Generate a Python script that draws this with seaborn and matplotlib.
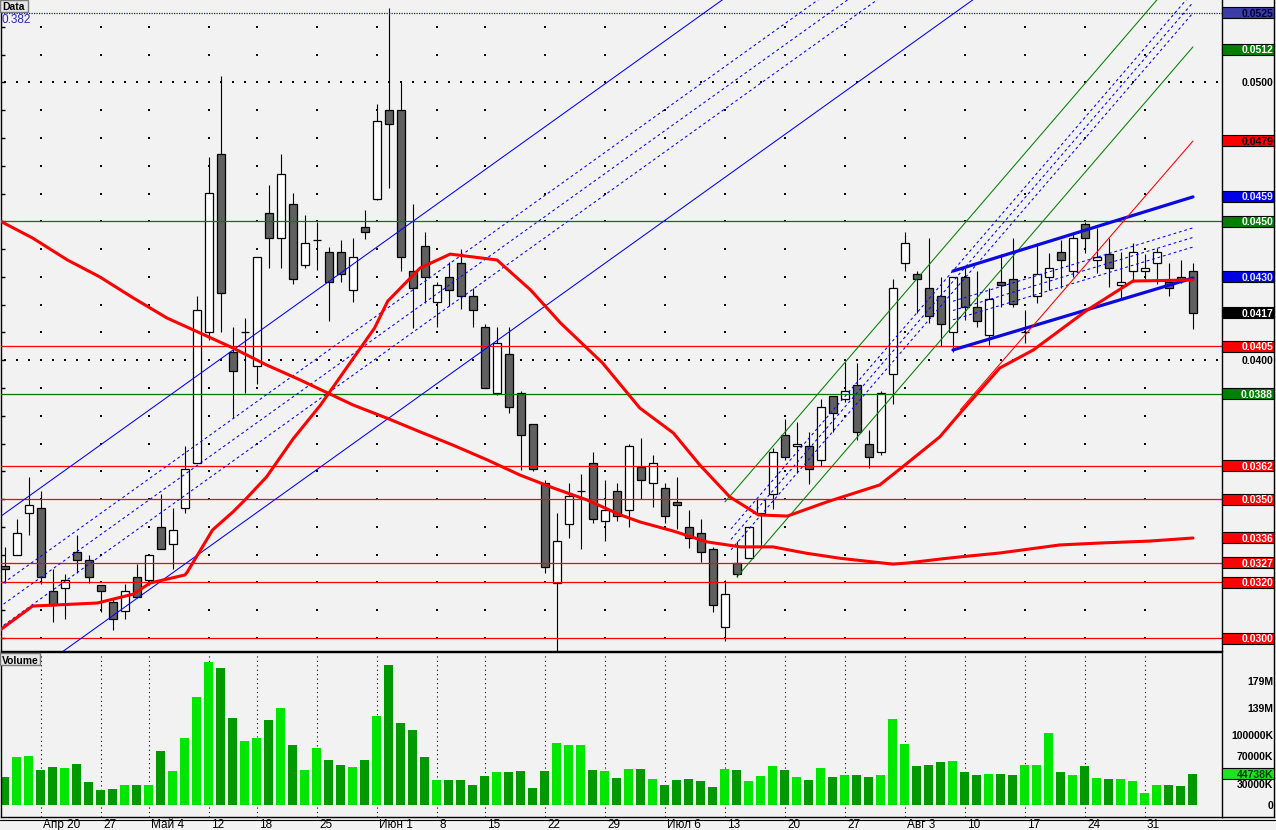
"""
Daily candlestick chart, Apr - Sep 2009, with volume panel,
moving averages, trend channels and marked price levels.
"""

import numpy as np
import pandas as pd
import matplotlib
matplotlib.use("Agg")
import matplotlib.pyplot as plt
from matplotlib.patches import Rectangle
from matplotlib.lines import Line2D
import seaborn as sns


# ---------------------------------------------------------------------------
# Data
# ---------------------------------------------------------------------------

opens = [0.03259, 0.03299, 0.03450, 0.03468, 0.03169, 0.03180, 0.03310, 0.03281, 0.03191, 0.03130,
         0.03097, 0.03220, 0.03209, 0.03400, 0.03338, 0.03468, 0.03630, 0.04102, 0.04742, 0.04030,
         0.04102, 0.03979, 0.04530, 0.04440, 0.04562, 0.04343, 0.04433, 0.04390, 0.04390, 0.04253,
         0.04480, 0.04580, 0.04901, 0.04901, 0.04321, 0.04411, 0.04210, 0.04300, 0.04350, 0.04231,
         0.04120, 0.03882, 0.04022, 0.03882, 0.03770, 0.03558, 0.03198, 0.03410, 0.03529, 0.03630,
         0.03421, 0.03529, 0.03461, 0.03616, 0.03558, 0.03540, 0.03490, 0.03400, 0.03378, 0.03320,
         0.03040, 0.03270, 0.03288, 0.03450, 0.03518, 0.03731, 0.03691, 0.03691, 0.03641, 0.03871,
         0.03860, 0.03911, 0.03698, 0.03670, 0.03950, 0.04350, 0.04310, 0.04260, 0.04231, 0.04102,
         0.04300, 0.04192, 0.04091, 0.04282, 0.04292, 0.04102, 0.04231, 0.04300, 0.04390, 0.04321,
         0.04490, 0.04361, 0.04382, 0.04271, 0.04321, 0.04321, 0.04350, 0.04282, 0.04300, 0.04321]

highs = [0.03328, 0.03428, 0.03580, 0.03529, 0.03248, 0.03230, 0.03371, 0.03299, 0.03191, 0.03144,
         0.03194, 0.03266, 0.03299, 0.03518, 0.03468, 0.03691, 0.04231, 0.04732, 0.05023, 0.04120,
         0.04152, 0.04372, 0.04631, 0.04742, 0.04602, 0.04523, 0.04498, 0.04408, 0.04433, 0.04440,
         0.04541, 0.04922, 0.05268, 0.05002, 0.04562, 0.04462, 0.04282, 0.04354, 0.04400, 0.04260,
         0.04130, 0.04120, 0.04120, 0.03889, 0.03770, 0.03569, 0.03450, 0.03558, 0.03590, 0.03670,
         0.03569, 0.03558, 0.03698, 0.03720, 0.03659, 0.03558, 0.03580, 0.03461, 0.03428, 0.03328,
         0.03209, 0.03349, 0.03400, 0.03500, 0.03684, 0.03788, 0.03778, 0.03742, 0.03860, 0.03871,
         0.03994, 0.03990, 0.03749, 0.03889, 0.04292, 0.04462, 0.04321, 0.04440, 0.04300, 0.04300,
         0.04332, 0.04321, 0.04260, 0.04382, 0.04440, 0.04181, 0.04422, 0.04386, 0.04433, 0.04458,
         0.04498, 0.04476, 0.04440, 0.04390, 0.04422, 0.04382, 0.04404, 0.04350, 0.04361, 0.04350]

lows = [0.03198, 0.03299, 0.03371, 0.03194, 0.03058, 0.03068, 0.03234, 0.03198, 0.03094, 0.03029,
        0.03068, 0.03148, 0.03191, 0.03320, 0.03248, 0.03450, 0.03630, 0.04073, 0.04102, 0.03792,
        0.03882, 0.03914, 0.04332, 0.04332, 0.04274, 0.04332, 0.04325, 0.04141, 0.04282, 0.04210,
        0.04436, 0.04577, 0.04620, 0.04321, 0.04116, 0.04206, 0.04120, 0.04195, 0.04184, 0.04120,
        0.03899, 0.03875, 0.03810, 0.03605, 0.03601, 0.03234, 0.02950, 0.03360, 0.03320, 0.03414,
        0.03349, 0.03421, 0.03400, 0.03500, 0.03472, 0.03414, 0.03392, 0.03324, 0.03274, 0.03094,
        0.02989, 0.03220, 0.03288, 0.03324, 0.03464, 0.03641, 0.03594, 0.03554, 0.03619, 0.03742,
        0.03850, 0.03713, 0.03612, 0.03659, 0.03842, 0.04321, 0.04170, 0.04134, 0.04051, 0.04030,
        0.04145, 0.04120, 0.04055, 0.04192, 0.04192, 0.04062, 0.04206, 0.04253, 0.04260, 0.04300,
        0.04386, 0.04314, 0.04264, 0.04224, 0.04282, 0.04292, 0.04274, 0.04231, 0.04278, 0.04112]

closes = [0.03248, 0.03378, 0.03479, 0.03220, 0.03119, 0.03209, 0.03281, 0.03220, 0.03169, 0.03068,
          0.03169, 0.03148, 0.03299, 0.03320, 0.03389, 0.03608, 0.04181, 0.04602, 0.04242, 0.03961,
          0.04102, 0.04372, 0.04440, 0.04670, 0.04292, 0.04422, 0.04433, 0.04282, 0.04310, 0.04372,
          0.04462, 0.04861, 0.04850, 0.04372, 0.04260, 0.04300, 0.04271, 0.04253, 0.04231, 0.04181,
          0.03899, 0.04062, 0.03832, 0.03731, 0.03608, 0.03256, 0.03349, 0.03511, 0.03529, 0.03428,
          0.03461, 0.03439, 0.03691, 0.03569, 0.03630, 0.03439, 0.03479, 0.03360, 0.03310, 0.03119,
          0.03158, 0.03230, 0.03400, 0.03500, 0.03670, 0.03652, 0.03698, 0.03608, 0.03832, 0.03810,
          0.03889, 0.03742, 0.03652, 0.03882, 0.04260, 0.04422, 0.04292, 0.04159, 0.04130, 0.04300,
          0.04192, 0.04141, 0.04220, 0.04271, 0.04202, 0.04102, 0.04310, 0.04332, 0.04361, 0.04440,
          0.04440, 0.04372, 0.04332, 0.04282, 0.04390, 0.04332, 0.04390, 0.04260, 0.04285, 0.04170]

# volume, millions
volume_m = [40, 69, 71, 50, 55, 53, 59, 33, 22, 23,
            29, 29, 29, 78, 49, 96, 155, 206, 197, 125,
            92, 96, 122, 140, 86, 50, 82, 65, 58, 55,
            65, 128, 201, 118, 108, 69, 36, 36, 36, 29,
            42, 47, 47, 49, 24, 49, 89, 86, 86, 50,
            49, 39, 52, 52, 37, 29, 36, 37, 35, 26,
            52, 50, 35, 42, 56, 50, 40, 36, 53, 40,
            43, 43, 40, 43, 124, 88, 56, 58, 62, 63,
            47, 43, 45, 45, 43, 58, 58, 104, 47, 43,
            56, 39, 37, 37, 35, 17, 29, 29, 27, 44.738]

week_ticks = [3, 8, 12, 17, 21, 26, 31, 36, 40, 45, 50, 55, 60, 65, 70, 75, 80, 85, 90, 95]
week_labels = ["Апр 20", "27", "Май 4", "12", "18", "25", "Июн 1", "8", "15", "22",
               "29", "Июл 6", "13", "20", "27", "Авг 3", "10", "17", "24", "31"]

# moving averages, sampled along the curves (bar index, price)
fast_ma_x = [-0.4, 2.3, 7.7, 10.7, 12.1, 15.0, 15.2, 16.3, 17.3, 19.0,
             20.0, 21.8, 24.0, 26.3, 30.8, 31.9, 34.6, 37.1, 41.0, 43.8,
             46.3, 49.8, 52.9, 55.7, 57.9, 60.4, 62.8, 65.2, 68.5, 72.9,
             74.8, 77.9, 79.6, 82.9, 85.7, 90.2, 94.0, 99.0]
fast_ma = [0.03029, 0.03115, 0.03126, 0.03158, 0.03198, 0.03227, 0.03238, 0.03317, 0.03389, 0.03454,
           0.03497, 0.03580, 0.03716, 0.03839, 0.04116, 0.04213, 0.04332, 0.04382, 0.04361, 0.04253,
           0.04134, 0.03990, 0.03828, 0.03738, 0.03623, 0.03508, 0.03443, 0.03439, 0.03490, 0.03551,
           0.03616, 0.03724, 0.03810, 0.03972, 0.04037, 0.04181, 0.04285, 0.04289]

slow_ma_x = [-0.4, 2.3, 5.2, 7.9, 10.7, 13.5, 15.7, 19.0, 21.8, 24.6,
             29.0, 31.8, 34.6, 37.3, 40.2, 42.9, 45.7, 48.5, 51.3, 52.9,
             55.7, 58.5, 61.3, 64.0, 66.8, 69.6, 72.3, 74.0, 75.2, 77.9,
             79.6, 82.9, 87.9, 91.3, 95.4, 99.0]
slow_ma = [0.04501, 0.04440, 0.04361, 0.04300, 0.04224, 0.04152, 0.04109, 0.04044, 0.03983, 0.03929,
           0.03839, 0.03792, 0.03742, 0.03695, 0.03641, 0.03587, 0.03540, 0.03497, 0.03443, 0.03418,
           0.03385, 0.03346, 0.03328, 0.03328, 0.03305, 0.03287, 0.03274, 0.03266, 0.03270, 0.03284,
           0.03292, 0.03306, 0.03335, 0.03342, 0.03349, 0.03360]

# horizontal price levels
red_levels = [0.0405, 0.0362, 0.0350, 0.0327, 0.0320, 0.0300]
green_levels = [0.0450, 0.0388]
top_level = 0.0525

# trend lines: two anchor points (bar index, price)
pitch_upper = ((0, 0.03449), (60, 0.05304))
pitch_lower = ((5, 0.02957), (80, 0.05277))
green_upper = ((60, 0.03490), (99, 0.05448))
green_lower = ((61, 0.03220), (99, 0.05128))
wedge_upper = ((79, 0.04321), (99, 0.04588))
wedge_lower = ((79, 0.04037), (99, 0.04296))
red_trend = ((79.6, 0.03821), (99, 0.04789))
fib_levels = [0.382, 0.5, 0.618]
fib_caption = "0.382"

# right-hand price tags: value, background, text colour
price_tags = [
    (0.0525, "#3c3ca8", "#000030"),
    (0.0512, "#008000", "white"),
    (0.0479, "#ff0000", "black"),
    (0.0459, "#0000e6", "#e8e8ff"),
    (0.0450, "#008000", "white"),
    (0.0430, "#0000e6", "#e8e8ff"),
    (0.0417, "#000000", "white"),
    (0.0405, "#ff0000", "white"),
    (0.0388, "#008000", "white"),
    (0.0362, "#ff0000", "white"),
    (0.0350, "#ff0000", "white"),
    (0.0336, "#ff0000", "white"),
    (0.0327, "#ff0000", "white"),
    (0.0320, "#ff0000", "white"),
    (0.0300, "#ff0000", "white"),
]
price_plain = [0.0500, 0.0400]

vol_tick_values = [179, 139, 100, 70, 30, 0]
vol_tick_labels = ["179M", "139M", "100000K", "70000K", "30000K", "0"]


# ---------------------------------------------------------------------------
# Layout constants
# ---------------------------------------------------------------------------

W, H = 1276, 830
BG = "#f2f2f2"
X_LEFT, X_RIGHT = -0.33, 101.42
P_BOTTOM, P_TOP = 0.029532, 0.052968
V_BOTTOM, V_TOP = -17.3, 220.0
PX_PRICE = 0.000036          # price per pixel
PX_VOL = 1 / 0.695           # millions per pixel


def px_axes(fig, x0, y0, x1, y1):
    """Add axes given by pixel box (top-left origin)."""
    return fig.add_axes([x0 / W, 1 - y1 / H, (x1 - x0) / W, (y1 - y0) / H])


def line_through(p0, p1, x0, x1):
    slope = (p1[1] - p0[1]) / (p1[0] - p0[0])
    return np.array([x0, x1]), np.array([p0[1] + slope * (x0 - p0[0]),
                                         p0[1] + slope * (x1 - p0[0])])


def draw_channel(ax, upper, lower, x_up, x_lo, x_fib, color, lw):
    xs, ys = line_through(*upper, *x_up)
    ax.plot(xs, ys, color=color, lw=lw, zorder=5)
    xs, ys = line_through(*lower, *x_lo)
    ax.plot(xs, ys, color=color, lw=lw, zorder=5)
    xs, yu = line_through(*upper, *x_fib)
    _, yl = line_through(*lower, *x_fib)
    for f in fib_levels:
        ax.plot(xs, yu + f * (yl - yu), color="#0000ff", lw=0.75,
                linestyle=(0, (2.7, 2.7)), zorder=5)


def fig_box(fig, x0, y0, x1, y1, text, size):
    rect = Rectangle((x0 / W, 1 - y1 / H), (x1 - x0) / W, (y1 - y0) / H,
                     transform=fig.transFigure, fc="#e6e6e6", ec="#7a7a7a",
                     lw=1.0, zorder=20)
    fig.add_artist(rect)
    fig.text((x0 + 2) / W, 1 - ((y0 + y1) / 2 + 0.5) / H, text, ha="left",
             va="center_baseline", fontsize=size, fontweight="bold",
             color="black", zorder=21)


# ---------------------------------------------------------------------------
# Figure
# ---------------------------------------------------------------------------

sns.set_style("white")
plt.rcParams["font.family"] = ["Liberation Sans", "DejaVu Sans"]

fig = plt.figure(figsize=(W / 100, H / 100), dpi=100, facecolor=BG)
ax = px_axes(fig, 1, 0, 1222, 651)
ax_plab = px_axes(fig, 1222, 0, 1274, 651)
ax_vol = px_axes(fig, 1, 652, 1222, 817)
ax_vlab = px_axes(fig, 1222, 652, 1274, 817)

for a in (ax, ax_plab, ax_vol, ax_vlab):
    a.set_facecolor(BG)
    for s in a.spines.values():
        s.set_color("black")
        s.set_linewidth(1.0)

o, hi, lo, c = (np.array(v) for v in (opens, highs, lows, closes))
idx = np.arange(len(c))

# --- dotted grid -----------------------------------------------------------
for lvl in np.round(np.arange(0.030, 0.0525, 0.001), 4):
    xs = np.arange(0, 102) if lvl in (0.040, 0.050) else np.array(week_ticks)
    ax.scatter(xs, np.full(len(xs), lvl), s=0.9, c="black", marker="s",
               linewidths=0, zorder=1)

# --- candles ---------------------------------------------------------------
ax.vlines(idx, lo, hi, color="black", lw=0.8, zorder=2)
body_lo = np.minimum(o, c)
body_h = np.abs(c - o)
up = c > o
down = c < o
flat = c == o
ax.bar(idx[up], body_h[up], bottom=body_lo[up], width=0.62, color="white",
       edgecolor="black", linewidth=0.9, zorder=3)
ax.bar(idx[down], body_h[down], bottom=body_lo[down], width=0.62,
       color="#606060", edgecolor="black", linewidth=0.9, zorder=3)
ax.hlines(c[flat], idx[flat] - 0.34, idx[flat] + 0.34, color="black",
          lw=0.9, zorder=3)

# --- levels ----------------------------------------------------------------
for lvl in red_levels:
    ax.axhline(lvl, color="#ff0000", lw=0.9, zorder=4)
for lvl in green_levels:
    ax.axhline(lvl, color="#007a00", lw=0.9, zorder=4)
ax.axhline(top_level, color="#1a1a8c", lw=0.9, linestyle=(0, (1, 1)), zorder=4)

# --- channels & trend lines ------------------------------------------------
draw_channel(ax, pitch_upper, pitch_lower, (-1, 102), (-1, 102), (-1, 102),
             "#0000ff", 0.75)
draw_channel(ax, green_upper, green_lower, (60, 99), (61, 99), (60.5, 99),
             "#008000", 0.75)
draw_channel(ax, wedge_upper, wedge_lower, (79, 99), (79, 99), (79, 99),
             "#0a0ae0", 2.3)
xs, ys = line_through(*red_trend, 79.6, 99)
ax.plot(xs, ys, color="#ff0000", lw=0.75, zorder=5)

# --- moving averages -------------------------------------------------------
sns.lineplot(x=slow_ma_x, y=slow_ma, ax=ax, color="#ff0000", linewidth=2.2,
             estimator=None, sort=False, zorder=6)
sns.lineplot(x=fast_ma_x, y=fast_ma, ax=ax, color="#ff0000", linewidth=2.2,
             estimator=None, sort=False, zorder=6)

ax.set_xlim(X_LEFT, X_RIGHT)
ax.set_ylim(P_BOTTOM, P_TOP)
ax.set_xlabel("")
ax.set_ylabel("")
ax.set_xticks([])
ax.set_yticks(np.round(np.arange(0.030, 0.0525, 0.001), 4))
ax.tick_params(axis="y", direction="in", length=3, width=1, color="black",
               labelleft=False, left=True)
ax.spines["top"].set_visible(False)
ax.spines["right"].set_visible(False)
ax.text(0.0, P_TOP - 19 * PX_PRICE, fib_caption, color="#2a2ab0",
        fontsize=8.5, ha="left", va="center_baseline",
        transform=ax.get_yaxis_transform(), zorder=8)

# --- right price strip -----------------------------------------------------
ax_plab.set_xlim(0, 52)
ax_plab.set_ylim(P_BOTTOM, P_TOP)
ax_plab.set_xticks([])
ax_plab.set_yticks([0.040, 0.050])
ax_plab.set_yticks(np.round(np.arange(0.030, 0.0525, 0.001), 4), minor=True)
ax_plab.tick_params(axis="y", which="major", direction="out", length=5,
                    width=1, labelleft=False)
ax_plab.tick_params(axis="y", which="minor", direction="out", length=2.5,
                    width=1, labelleft=False)
ax_plab.spines["top"].set_visible(False)
ax_plab.spines["bottom"].set_visible(False)
half = 5.5 * PX_PRICE
for value, face, tcol in price_tags:
    ax_plab.add_patch(Rectangle((-0.5, value - half), 52.5, 2 * half, fc=face,
                                ec="black", lw=0.8, clip_on=False, zorder=3))
    ax_plab.text(51, value, f"{value:.4f}", ha="right", va="center_baseline",
                 fontsize=7.5, fontweight="bold", color=tcol, zorder=4)
for value in price_plain:
    ax_plab.text(51, value, f"{value:.4f}", ha="right", va="center_baseline",
                 fontsize=7.5, fontweight="bold", color="black")

# --- volume ----------------------------------------------------------------
vol_df = pd.DataFrame({
    "bar": idx,
    "volume": volume_m,
    "direction": np.where(c >= o, "up", "down"),
})
ax_vol.vlines(week_ticks, V_BOTTOM, V_TOP, colors="black", lw=0.8,
              linestyles=(0, (1, 3)), zorder=0)
sns.barplot(data=vol_df, x="bar", y="volume", hue="direction",
            palette={"up": "#00e600", "down": "#009a00"}, native_scale=True,
            width=0.75, saturation=1, errorbar=None, legend=False,
            dodge=False, linewidth=0, ax=ax_vol, zorder=2)
ax_vol.set_xlim(X_LEFT, X_RIGHT)
ax_vol.set_ylim(V_BOTTOM, V_TOP)
ax_vol.set_xlabel("")
ax_vol.set_ylabel("")
ax_vol.set_yticks([])
ax_vol.set_xticks(week_ticks)
ax_vol.tick_params(axis="x", direction="out", length=10, width=1,
                   color="black", labelbottom=False)
ax_vol.spines["right"].set_visible(False)
for t, lab in zip(week_ticks, week_labels):
    ax_vol.text(t + 0.17, -0.015, lab, transform=ax_vol.get_xaxis_transform(),
                ha="left", va="top", fontsize=8.5, color="black")

ax_vlab.set_xlim(0, 52)
ax_vlab.set_ylim(V_BOTTOM, V_TOP)
ax_vlab.set_xticks([])
ax_vlab.set_yticks(np.arange(0, 216, 6))
ax_vlab.tick_params(axis="y", direction="out", length=2.5, width=1,
                    labelleft=False)
ax_vlab.spines["top"].set_visible(False)
for value, lab in zip(vol_tick_values, vol_tick_labels):
    ax_vlab.text(51, value, lab, ha="right", va="center_baseline",
                 fontsize=7.5, fontweight="bold", color="black")
vhalf = 5.5 * PX_VOL
last_vol = volume_m[-1]
ax_vlab.add_patch(Rectangle((-0.5, last_vol - vhalf), 52.5, 2 * vhalf,
                            fc="#22e022", ec="black", lw=0.8, clip_on=False,
                            zorder=3))
ax_vlab.text(51, last_vol, f"{last_vol * 1000:.0f}K", ha="right",
             va="center_baseline", fontsize=7.5, fontweight="bold",
             color="#003a00", zorder=4)

# --- panel captions & frame lines -----------------------------------------
fig_box(fig, 0, 0, 28, 12, "Data", 7.5)
fig_box(fig, 0, 653, 40, 665, "Volume", 7.5)
fig.add_artist(Line2D([0, 1], [1 - 820 / H] * 2, transform=fig.transFigure,
                      color="black", lw=0.8))

fig.savefig("out.png", dpi=100, facecolor=BG)
